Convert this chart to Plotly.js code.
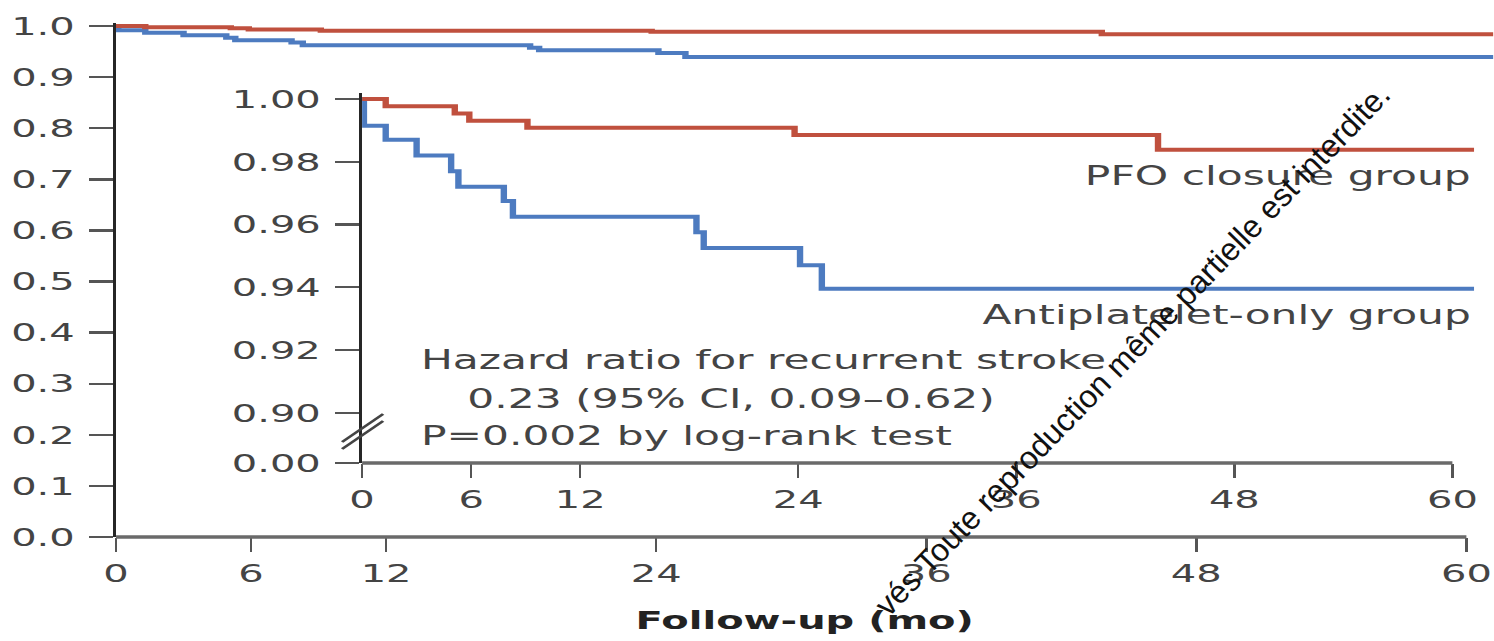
<!DOCTYPE html>
<html>
<head>
<meta charset="utf-8">
<script src="https://cdn.plot.ly/plotly-3.0.1.min.js"></script>
<style>
  html, body { margin: 0; padding: 0; background: #ffffff; overflow: hidden; }
  #wrap { position: relative; width: 1494px; height: 641px; overflow: hidden; background: #fff; }
  #chart { position: absolute; left: 0; top: 0; transform-origin: 0 0; }
  #mark { position: absolute; left: 0; top: 0; width: 1494px; height: 641px; pointer-events: none; }
</style>
</head>
<body>
<div id="wrap"><div id="chart"></div><div id="mark"></div></div>
<script>
// ---------------- DATA ----------------
const seriesNames = ["PFO closure group", "Antiplatelet-only group"];

// Kaplan-Meier step curves: months of follow-up and survival (free from recurrent stroke)
const monthsPFO = [0, 1.3, 5.1, 5.9, 9.1, 23.8, 43.8, 61.2];
const survPFO   = [1.0, 0.9977, 0.9954, 0.9931, 0.9908, 0.9885, 0.9838, 0.9838];

const monthsAP  = [0, 0.1, 1.3, 3.0, 4.9, 5.3, 7.8, 8.3, 18.4, 18.8, 24.1, 25.3, 61.2];
const survAP    = [1.0, 0.9915, 0.987, 0.982, 0.977, 0.972, 0.9675, 0.9625, 0.9575, 0.9525, 0.947, 0.9395, 0.9395];

// Axis ticks
const xTickVals   = [0, 6, 12, 24, 36, 48, 60];
const xTickText   = ["0", "6", "12", "24", "36", "48", "60"];
const yTickVals   = [0, 0.1, 0.2, 0.3, 0.4, 0.5, 0.6, 0.7, 0.8, 0.9, 1.0];
const yTickText   = ["0.0", "0.1", "0.2", "0.3", "0.4", "0.5", "0.6", "0.7", "0.8", "0.9", "1.0"];
const insetYTickVals = [0.90, 0.92, 0.94, 0.96, 0.98, 1.00];
const insetYTickText = ["0.90", "0.92", "0.94", "0.96", "0.98", "1.00"];
const insetBreakLabel = "0.00";

const statLines = [
  "Hazard ratio for recurrent stroke",
  "0.23 (95% CI, 0.09\u20130.62)",
  "P=0.002 by log-rank test"
];
const xTitle = "Follow-up (mo)";
const watermarkText = "v\u00e9s Toute reproduction m\u00eame partielle est interdite.";

// ---------------- STYLE / LAYOUT ----------------
const W = 1494, H = 641;
const STRETCH = 1.6;              // reference artwork is horizontally stretched
const W0 = W / STRETCH;

const RED = "#c0503e";
const BLUE = "#4d7bc0";
const TXT = "#444444";
const FONT = "DejaVu Sans, Verdana, sans-serif";

const px2fx = X => X / W;
const px2fy = Y => (H - Y) / H;

// main plot geometry (final pixels)
const mainX = [px2fx(116), px2fx(1493)];
const mainRangeX = [0, 61.2];
const mainRangeY = [0, 1.006];
const mainY = [px2fy(537), px2fy(537 - 1.006 * 511)];

// inset geometry
const insetRangeX = [0, 61.2];
const insetBreakPos = 0.884;
const insetRangeY = [insetBreakPos, 1.002];
const insetX = [px2fx(362), px2fx(1473.8)];
const insetY = [px2fy(463), px2fy(99 - 0.002 * 3140)];

function xToPaper(v, dom, rng) { return dom[0] + (v - rng[0]) / (rng[1] - rng[0]) * (dom[1] - dom[0]); }

const traces = [
  { x: monthsAP, y: survAP, xaxis: "x", yaxis: "y", mode: "lines", name: seriesNames[1],
    line: { shape: "hv", color: BLUE, width: 4 }, hoverinfo: "skip" },
  { x: monthsPFO, y: survPFO, xaxis: "x", yaxis: "y", mode: "lines", name: seriesNames[0],
    line: { shape: "hv", color: RED, width: 4 }, hoverinfo: "skip" },
  { x: monthsAP, y: survAP, xaxis: "x2", yaxis: "y2", mode: "lines", name: seriesNames[1],
    line: { shape: "hv", color: BLUE, width: 4 }, hoverinfo: "skip" },
  { x: monthsPFO, y: survPFO, xaxis: "x2", yaxis: "y2", mode: "lines", name: seriesNames[0],
    line: { shape: "hv", color: RED, width: 4 }, hoverinfo: "skip" }
];

const tickFont = { family: FONT, size: 25, color: TXT };

const commonX = {
  showgrid: false, zeroline: false, showline: false,
  ticks: "outside", ticklen: 14, tickwidth: 1.6, tickcolor: "#555",
  tickvals: xTickVals, ticktext: xTickText, tickfont: tickFont, fixedrange: true
};
const commonY = {
  showgrid: false, zeroline: false, showline: true, linecolor: "#262626", linewidth: 1.8,
  ticks: "outside", ticklen: 15, tickwidth: 2.4, tickcolor: "#555",
  tickfont: tickFont, ticklabelstandoff: 4, fixedrange: true
};

const layout = {
  width: W0, height: H,
  margin: { l: 0, r: 0, t: 0, b: 0, pad: 0 },
  paper_bgcolor: "rgba(0,0,0,0)", plot_bgcolor: "rgba(0,0,0,0)",
  showlegend: false,
  xaxis: Object.assign({}, commonX, { domain: mainX, range: mainRangeX, anchor: "y",
    title: { text: xTitle, font: { family: FONT, size: 25, color: "#222", weight: "bold" }, standoff: 24 } }),
  yaxis: Object.assign({}, commonY, { domain: mainY, range: mainRangeY, anchor: "x",
    tickvals: yTickVals, ticktext: yTickText }),
  xaxis2: Object.assign({}, commonX, { domain: insetX, range: insetRangeX, anchor: "y2" }),
  yaxis2: Object.assign({}, commonY, { domain: insetY, range: insetRangeY, anchor: "x2",
    tickvals: [insetBreakPos].concat(insetYTickVals), ticktext: [insetBreakLabel].concat(insetYTickText) }),
  shapes: [
    // main x axis line (0 to 60 months)
    { type: "line", xref: "paper", yref: "paper",
      x0: xToPaper(0, mainX, mainRangeX), x1: xToPaper(60, mainX, mainRangeX),
      y0: mainY[0], y1: mainY[0], line: { color: "#6a6a6a", width: 3.5 } },
    // inset x axis line
    { type: "line", xref: "paper", yref: "paper",
      x0: xToPaper(0, insetX, insetRangeX), x1: xToPaper(60, insetX, insetRangeX),
      y0: insetY[0], y1: insetY[0], line: { color: "#6a6a6a", width: 3.5 } },
    // axis break marks
    { type: "line", xref: "paper", yref: "paper",
      x0: px2fx(342), y0: px2fy(442), x1: px2fx(383), y1: px2fy(414), line: { color: "#444", width: 2 } },
    { type: "line", xref: "paper", yref: "paper",
      x0: px2fx(342), y0: px2fy(449), x1: px2fx(383), y1: px2fy(421), line: { color: "#444", width: 2 } }
  ],
  annotations: [
    { xref: "x2 domain", yref: "y2", x: 1, y: 0.9755, xanchor: "right", yanchor: "middle",
      text: seriesNames[0], showarrow: false, font: { family: FONT, size: 26.5, color: TXT } },
    { xref: "x2 domain", yref: "y2", x: 1, y: 0.9312, xanchor: "right", yanchor: "middle",
      text: seriesNames[1], showarrow: false, font: { family: FONT, size: 26.5, color: TXT } },
    { xref: "x2", yref: "y2", x: 3.05, y: 0.9169, xanchor: "left", yanchor: "middle",
      text: statLines[0], showarrow: false, font: { family: FONT, size: 26.5, color: TXT } },
    { xref: "x2", yref: "y2", x: 5.65, y: 0.9045, xanchor: "left", yanchor: "middle",
      text: statLines[1], showarrow: false, font: { family: FONT, size: 26.5, color: TXT } },
    { xref: "x2", yref: "y2", x: 3.05, y: 0.8927, xanchor: "left", yanchor: "middle",
      text: statLines[2], showarrow: false, font: { family: FONT, size: 26.5, color: TXT } }
  ]
};

const chartDiv = document.getElementById("chart");
chartDiv.style.width = W0 + "px";
chartDiv.style.height = H + "px";
chartDiv.style.transform = "scaleX(" + STRETCH + ")";

Plotly.newPlot(chartDiv, traces, layout, { staticPlot: true, displayModeBar: false });

// watermark overlay (not stretched)
Plotly.newPlot("mark", [], {
  width: W, height: H,
  margin: { l: 0, r: 0, t: 0, b: 0 },
  paper_bgcolor: "rgba(0,0,0,0)", plot_bgcolor: "rgba(0,0,0,0)",
  xaxis: { visible: false }, yaxis: { visible: false },
  annotations: [
    { xref: "paper", yref: "paper", x: px2fx(1132), y: px2fy(350), xanchor: "center", yanchor: "middle",
      text: watermarkText, textangle: -46, showarrow: false,
      font: { family: "Liberation Sans, Arial, sans-serif", size: 32, color: "#111" } }
  ]
}, { staticPlot: true, displayModeBar: false });
</script>
</body>
</html>
